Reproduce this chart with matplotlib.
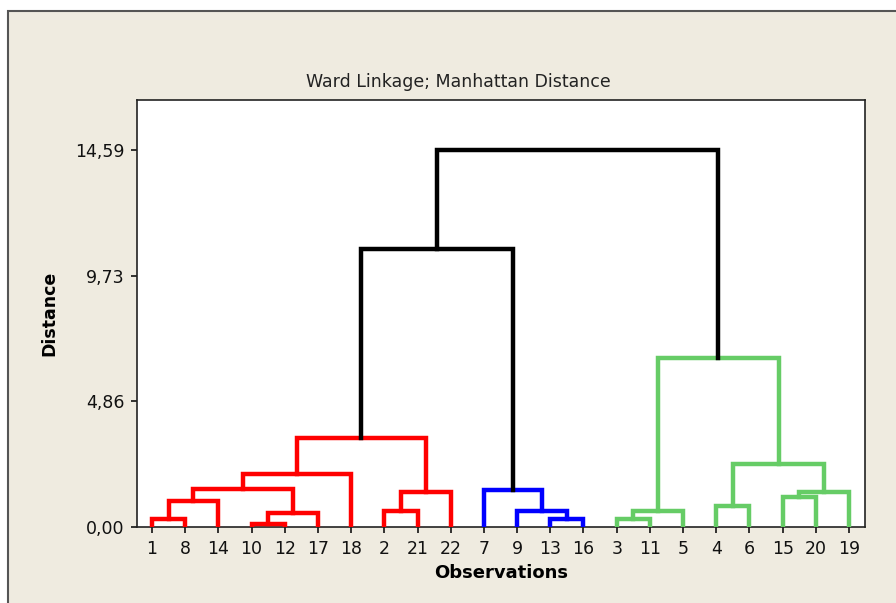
import matplotlib
matplotlib.use("Agg")
import matplotlib.pyplot as plt
from matplotlib.patches import Rectangle

# leaf order along the x axis (observation numbers)
leaf_labels = [1, 8, 14, 10, 12, 17, 18, 2, 21, 22, 7, 9, 13, 16, 3, 11, 5, 4, 6, 15, 20, 19]

# merges: node ids 1..22 are observations, new clusters are numbered from 23 up
merge_left = [10, 1, 13, 3, 23, 2, 9, 26, 4, 24, 15, 28, 33, 7, 32, 37, 31, 38, 30, 40, 42]
merge_right = [12, 8, 16, 11, 17, 21, 25, 5, 6, 14, 20, 22, 19, 29, 27, 18, 35, 34, 39, 36, 41]
merge_height = [0.12, 0.31, 0.31, 0.31, 0.54, 0.62, 0.62, 0.62, 0.81, 1.01, 1.16,
                1.36, 1.36, 1.44, 1.47, 2.06, 2.44, 3.45, 6.56, 10.75, 14.59]
merge_color = ["red", "red", "blue", "green", "red", "red", "blue", "green", "green", "red",
               "green", "red", "green", "blue", "red", "red", "green", "red", "green",
               "black", "black"]

y_ticks = [0.0, 4.86, 9.73, 14.59]
y_tick_labels = ["0,00", "4,86", "9,73", "14,59"]

colors = {"red": "#FF0000", "blue": "#0000FF", "green": "#66CC66", "black": "#000000"}
bg = "#EFEBE0"

fig = plt.figure(figsize=(8.96, 6.03), dpi=100, facecolor="white")
# outer minitab style frame
frame = Rectangle((8 / 896, -0.1), 1.2, 1 - 11 / 603 + 0.1, transform=fig.transFigure,
                  facecolor=bg, edgecolor="#555555", linewidth=1.5, zorder=-10)
fig.add_artist(frame)

ax = fig.add_axes([137 / 896, 76 / 603, 728 / 896, 427 / 603])
ax.set_zorder(1)
ax.set_facecolor("white")

# x position / height of every node
xpos = {lab: i for i, lab in enumerate(leaf_labels)}
hgt = {lab: 0.0 for lab in leaf_labels}
n_obs = len(leaf_labels)
for k, (a, b, h, c) in enumerate(zip(merge_left, merge_right, merge_height, merge_color)):
    node = n_obs + 1 + k
    xa, xb = xpos[a], xpos[b]
    ax.plot([xa, xa, xb, xb], [hgt[a], h, h, hgt[b]], color=colors[c], lw=3.2,
            solid_capstyle="projecting", solid_joinstyle="miter", zorder=3)
    xpos[node] = (xa + xb) / 2
    hgt[node] = h

ax.set_xlim(-0.45, n_obs - 1 + 0.48)
ax.set_ylim(0, 16.53)
ax.set_xticks(range(n_obs))
ax.set_xticklabels([str(v) for v in leaf_labels])
ax.set_yticks(y_ticks)
ax.set_yticklabels(y_tick_labels)
ax.tick_params(direction="out", length=4, width=1.2, labelsize=12.5, colors="#111111", pad=5)

for sp in ax.spines.values():
    sp.set_linewidth(1.2)
    sp.set_color("#222222")

fig.text(458 / 896, 1 - 82 / 603, "Ward Linkage; Manhattan Distance", fontsize=12.5,
         color="#222222", ha="center", va="center")
ax.set_xlabel("Observations", fontsize=13, fontweight="bold", labelpad=5)
ax.set_ylabel("Distance", fontsize=12.5, fontweight="bold", labelpad=12)

fig.savefig("out.png", dpi=100, facecolor=fig.get_facecolor())
